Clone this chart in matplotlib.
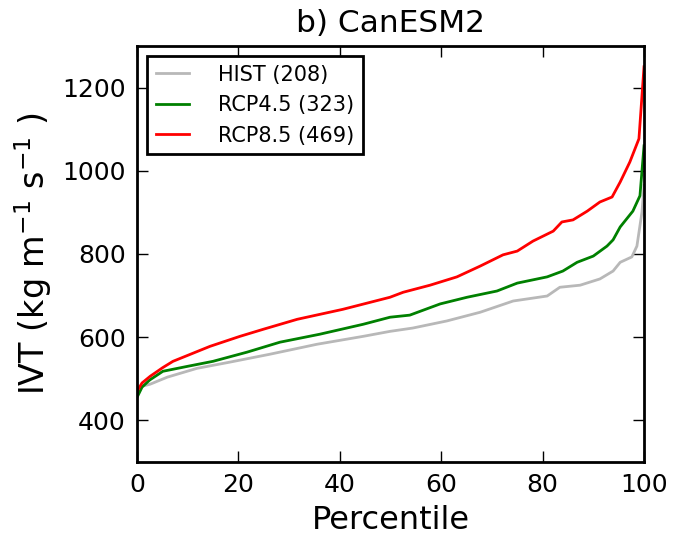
import matplotlib
matplotlib.use('Agg')
import matplotlib.pyplot as plt

hist_pct = [0, 1, 2.6, 6, 11.8, 18.3, 26.2, 35.5, 44.6, 49.9, 54.4, 61.1, 67.7, 74.2, 80.9, 83.4, 87.4, 91.3, 93.9, 95.3, 97.6, 98.6, 99.6, 100]
hist_ivt = [468, 482, 487, 504, 525, 540, 559, 583, 602, 614, 622, 639, 660, 687, 699, 720, 725, 740, 759, 780, 793, 819, 901, 965]

rcp45_pct = [0, 1, 2.5, 5.1, 10, 15, 21.7, 28.2, 36, 44.6, 49.9, 53.8, 59.8, 65.1, 71, 75, 80.9, 84, 86.8, 90, 92.7, 93.9, 95.3, 97.8, 99.2, 100]
rcp45_ivt = [455, 480, 497, 518, 530, 542, 564, 588, 607, 631, 648, 653, 680, 696, 711, 730, 745, 759, 780, 795, 819, 834, 865, 903, 940, 1060]

rcp85_pct = [0, 1, 2.6, 5.1, 7.1, 14.4, 20.3, 24.9, 31.6, 40.6, 49.9, 52.5, 57.8, 63.1, 67.7, 72.2, 75, 78.1, 82.1, 83.8, 86, 88.8, 91.3, 93.7, 95.3, 97.2, 99, 100]
rcp85_ivt = [470, 490, 506, 527, 542, 578, 602, 619, 643, 667, 696, 708, 725, 745, 771, 798, 807, 831, 855, 877, 882, 903, 925, 937, 973, 1021, 1077, 1250]

labels = ['HIST (208)', 'RCP4.5 (323)', 'RCP8.5 (469)']
colors = ['#b8b8b8', 'green', 'red']

fig = plt.figure(figsize=(6.86, 5.38), dpi=100)
ax = fig.add_axes([0.1997, 0.1413, 0.7391, 0.7732])

ax.plot(hist_pct, hist_ivt, color=colors[0], linewidth=2, label=labels[0])
ax.plot(rcp45_pct, rcp45_ivt, color=colors[1], linewidth=2, label=labels[1])
ax.plot(rcp85_pct, rcp85_ivt, color=colors[2], linewidth=2, label=labels[2])

ax.set_xlim(0, 100)
ax.set_ylim(300, 1300)
ax.set_xticks([0, 20, 40, 60, 80, 100])
ax.set_yticks([400, 600, 800, 1000, 1200])
ax.tick_params(direction='in', length=8, width=1, labelsize=18, top=True, right=True, pad=8)
for s in ax.spines.values():
    s.set_linewidth(2)

ax.set_title('b) CanESM2', fontsize=22.5, pad=10)
ax.set_xlabel('Percentile', fontsize=23, labelpad=6)
ax.set_ylabel(r'IVT (kg m$^{-1}$ s$^{-1}$ )', fontsize=24, labelpad=6)

leg = ax.legend(loc='upper left', fontsize=15, handlelength=1.6, handletextpad=1.4,
                fancybox=False, framealpha=1, borderaxespad=0.5)
leg.get_frame().set_edgecolor('black')
leg.get_frame().set_linewidth(2)

fig.savefig('out.png', dpi=100)
